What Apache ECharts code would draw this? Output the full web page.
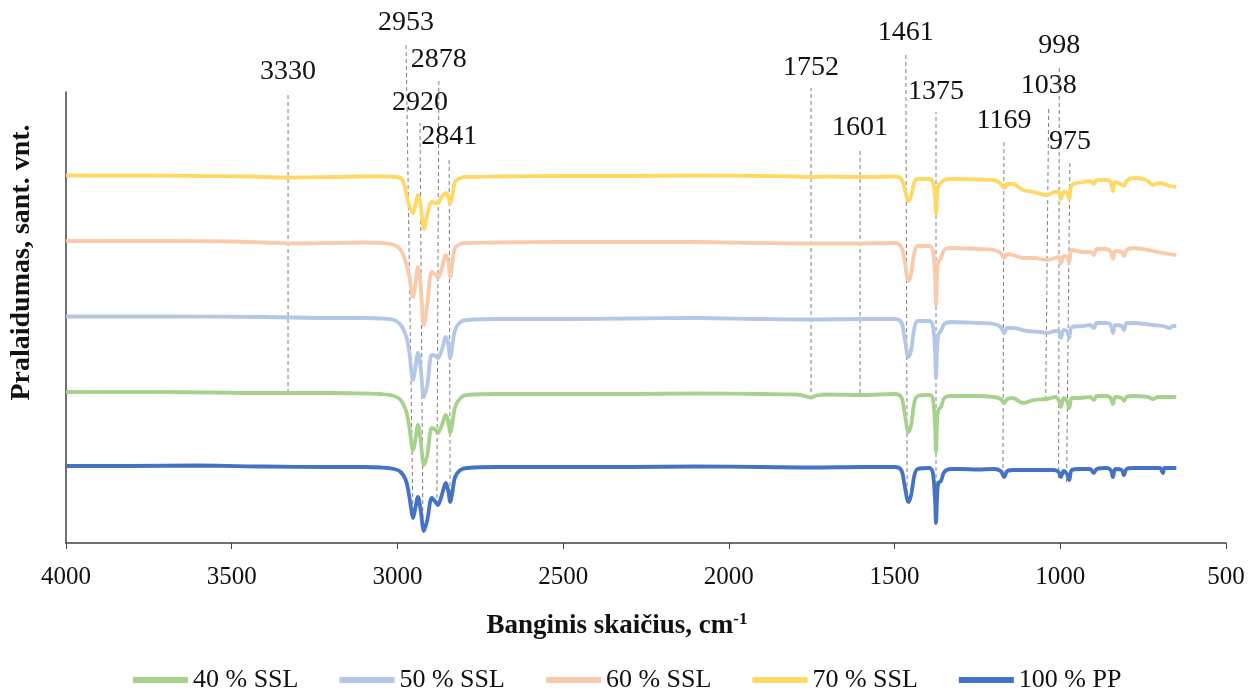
<!DOCTYPE html>
<html>
<head>
<meta charset="utf-8">
<script src="https://cdn.jsdelivr.net/npm/echarts@6/dist/echarts.min.js"></script>
<style>html,body{margin:0;padding:0;background:#fff}#c{width:1250px;height:691px}</style>
</head>
<body>
<div id="c"></div>
<script>
// Spectra: [wavenumber cm-1, transmittance (arbitrary offset units)]
const pp100 = [[4000,77],[3800,77],[3600,77.5],[3400,76.5],[3200,76],[3100,76],[3050,75.5],[3010,74],[2990,71],[2975,63],[2965,48],[2958,33],[2953,25],[2946,35],[2938,46],[2930,33],[2920,12],[2910,23],[2896,45],[2885,41],[2878,38],[2866,48],[2854,60],[2846,51],[2841,41],[2834,51],[2826,66],[2810,73],[2790,75],[2700,76],[2500,76],[2300,76],[2100,76.5],[1900,76],[1752,75.5],[1600,76],[1500,76],[1480,73],[1470,58],[1458,41],[1450,48],[1440,68],[1430,74],[1395,75],[1385,71],[1378,43],[1375,20],[1372,43],[1368,60],[1360,62],[1350,71],[1330,74],[1300,74],[1250,73.5],[1200,74],[1180,72],[1169,66],[1160,72],[1140,73],[1100,73],[1060,73],[1020,73],[1005,71],[998,66],[990,72],[980,69],[973,63],[965,73],[940,74],[910,74],[899,70],[890,74],[860,75],[848,73],[841,66],[834,74],[815,73],[808,68],[800,74],[780,75],[720,75],[700,75],[690,70],[685,75],[650,75]];
const ssl40 = [[4000,151],[3700,151],[3400,150],[3200,150],[3100,149.5],[3050,149],[3010,147],[2990,143],[2975,133],[2965,118],[2953,93],[2946,103],[2938,118],[2930,103],[2920,78],[2910,88],[2896,115],[2885,113],[2878,110],[2866,118],[2854,128],[2846,120],[2841,110],[2834,120],[2826,136],[2810,145],[2790,148],[2700,149],[2500,149],[2300,149],[2100,149.5],[1900,149],[1800,148.5],[1770,147],[1752,145.5],[1735,147.5],[1700,148.5],[1601,148],[1500,149],[1480,146],[1470,131],[1458,111],[1450,118],[1440,141],[1430,147],[1395,148],[1385,145],[1378,118],[1375,91],[1372,118],[1368,133],[1360,136],[1350,145],[1330,147],[1250,147],[1200,146],[1180,144],[1169,140],[1160,144],[1143,145],[1113,140],[1080,143],[1040,144],[1015,146],[1005,143],[998,136],[990,145],[980,142],[973,135],[965,145],[940,145],[910,146],[899,143],[890,147],[860,147],[848,145],[841,139],[834,146],[815,145],[808,142],[800,146],[780,147],[735,146],[720,144],[705,146],[650,146]];
const ssl50 = [[4000,226.5],[3700,226.5],[3400,226],[3200,225],[3100,225],[3050,224.5],[3010,223],[2990,218],[2975,208],[2965,193],[2953,163],[2946,175],[2938,190],[2930,175],[2920,146],[2910,158],[2896,188],[2885,187],[2878,185],[2866,193],[2854,206],[2846,198],[2841,185],[2834,198],[2826,213],[2810,221],[2790,223],[2700,224],[2500,224],[2300,224.5],[2100,225],[1900,224],[1752,223.5],[1600,224],[1500,224],[1480,221],[1470,206],[1458,186],[1450,193],[1440,215],[1430,222],[1395,222],[1385,218],[1378,193],[1375,165],[1372,193],[1368,208],[1360,212],[1350,219],[1330,221],[1250,220],[1200,219],[1180,216],[1169,210],[1160,215],[1143,215],[1100,212],[1060,211],[1040,210],[1015,212],[1005,212],[998,205],[990,213],[980,212],[973,205],[965,216],[930,217],[910,218],[899,215],[890,220],[860,220],[848,218],[841,210],[834,218],[815,217],[808,213],[800,220],[780,220],[720,218],[690,217],[670,215],[660,217],[650,217]];
const ssl60 = [[4000,302],[3700,302],[3500,301.5],[3400,300.5],[3300,299.5],[3200,300],[3100,300.5],[3050,300],[3010,298],[2990,293],[2975,281],[2965,268],[2953,246],[2946,258],[2938,276],[2930,258],[2920,218],[2910,238],[2896,271],[2885,268],[2878,265],[2866,275],[2854,288],[2846,280],[2841,266],[2834,281],[2826,295],[2810,299],[2790,300],[2700,300.5],[2500,301],[2300,301],[2100,301],[1900,300],[1752,299.5],[1600,299.5],[1500,300],[1480,296],[1470,283],[1458,262],[1450,269],[1440,291],[1430,297],[1395,297],[1385,293],[1378,268],[1375,238],[1372,266],[1368,281],[1360,285],[1350,293],[1330,295],[1250,294],[1200,293],[1180,290],[1169,285],[1160,289],[1143,288],[1113,285],[1080,285],[1040,283],[1015,285],[1005,286],[998,280],[990,287],[980,286],[973,281],[965,293],[930,291],[910,291],[899,288],[890,294],[860,294],[848,291],[841,284],[834,292],[815,291],[808,287],[800,293],[780,295],[720,292],[690,290],[650,288]];
const ssl70 = [[4000,367.5],[3800,367.5],[3600,367],[3450,366.5],[3330,365.5],[3200,366],[3100,366.5],[3030,366.5],[3000,366],[2985,363],[2972,348],[2965,338],[2953,330],[2946,338],[2938,348],[2930,338],[2920,314],[2910,328],[2896,341],[2885,340],[2878,340],[2866,346],[2854,350],[2846,346],[2841,339],[2834,348],[2826,361],[2810,365],[2790,366],[2700,366.5],[2500,367],[2300,367],[2100,367.5],[1900,367],[1800,366.5],[1752,366],[1700,366.5],[1601,366],[1500,366.5],[1480,364],[1470,355],[1458,342],[1450,347],[1440,361],[1430,364],[1395,364],[1385,361],[1378,348],[1375,329],[1372,346],[1368,357],[1360,360],[1350,363],[1330,364],[1250,363.5],[1200,363],[1182,360],[1169,355],[1160,359],[1143,359],[1113,353],[1080,351],[1040,348],[1016,351],[1005,351],[998,344],[990,351],[980,350],[973,344],[965,358],[930,361],[910,362],[899,359],[890,363],[860,363],[848,361],[841,352],[834,361],[820,359],[808,357],[800,362],[781,365],[740,363],[720,358],[700,360],[670,357],[650,356]];

// Peak annotations
const peakLabels = ['3330','2953','2920','2878','2841','1752','1601','1461','1375','1169','1038','998','975'];
const peakWaveTop = [3330,2974,2932,2875,2844,1752,1604,1466,1375,1170,1035,1003,971];
const peakWaveBottom = [3330,2953,2923,2881,2841,1752,1604,1462,1375,1173,1044,1005,981];
const peakTop = [451,500,420,463,386,455,395,490,431,402,437,477,381];
const peakBottom = [150,25,18,38,43,151,150,43,23,68,143,65,61];

const seriesNames = ['40 % SSL','50 % SSL','60 % SSL','70 % SSL','100 % PP'];
const seriesData = [ssl40, ssl50, ssl60, ssl70, pp100];
const colors = ['#A9D18E','#B4C7E7','#F8CBAD','#FFD966','#4472C4'];

const serif = '"Liberation Serif", "Times New Roman", serif';
const chart = echarts.init(document.getElementById('c'), null, {renderer: 'canvas'});

const annData = peakLabels.map((l, i) => [peakWaveTop[i], peakTop[i], peakWaveBottom[i], peakBottom[i], l]);

const series = seriesNames.map((n, i) => ({
  name: n, type: 'line', data: seriesData[i], showSymbol: false, symbol: 'none',
  smooth: 0.35, lineStyle: {color: colors[i], width: 3.8}, itemStyle: {color: colors[i]},
  z: 3 + i
}));
series.unshift({
  type: 'custom', name: 'peaks', data: annData, clip: false, silent: true, z: 2,
  encode: {x: [0, 2], y: [1, 3]},
  renderItem: function (params, api) {
    const top = api.coord([api.value(0), api.value(1)]);
    const bot = api.coord([api.value(2), api.value(3)]);
    const label = peakLabels[params.dataIndex];
    return {
      type: 'group',
      children: [
        {type: 'line', shape: {x1: bot[0], y1: bot[1], x2: top[0], y2: top[1]},
         style: {stroke: '#7F7F7F', lineWidth: 1, lineDash: [4, 3]}},
        {type: 'text', style: {text: label, x: top[0], y: top[1] - 20, align: 'center', verticalAlign: 'middle',
          textAlign: 'center', textVerticalAlign: 'middle', font: '28px ' + serif, fill: '#111'}}
      ]
    };
  }
});

chart.setOption({
  animation: false,
  backgroundColor: '#fff',
  grid: {left: 66, right: 24, top: 92, bottom: 148, containLabel: false},
  legend: {
    data: seriesNames, top: 662, left: 128, icon: 'rect', itemWidth: 55, itemHeight: 6, itemGap: 41,
    textStyle: {fontFamily: serif, fontSize: 26, color: '#111'}
  },
  xAxis: {
    type: 'value', inverse: true, min: 500, max: 4000, interval: 500,
    axisLine: {show: true, onZero: false, lineStyle: {color: '#404040', width: 1.5}},
    axisTick: {show: true, length: 6, lineStyle: {color: '#404040'}},
    axisLabel: {fontFamily: serif, fontSize: 25, color: '#111', margin: 22, formatter: function (v) { return String(v); }},
    splitLine: {show: false},
    name: '{a|Banginis skaičius, cm}{s|-1}', nameLocation: 'middle', nameGap: 68,
    nameTextStyle: {padding: [0, 58, 0, 0], rich: {
      a: {fontFamily: serif, fontSize: 27, fontWeight: 'bold', color: '#111'},
      s: {fontFamily: serif, fontSize: 17, fontWeight: 'bold', color: '#111', verticalAlign: 'top', padding: [0, 0, 14, 0]}
    }}
  },
  yAxis: {
    type: 'value', min: 0, max: 451,
    axisLine: {show: true, onZero: false, lineStyle: {color: '#404040', width: 1.5}},
    axisTick: {show: false}, axisLabel: {show: false}, splitLine: {show: false},
    name: 'Pralaidumas, sant. vnt.', nameLocation: 'middle', nameGap: 30,
    nameTextStyle: {fontFamily: serif, fontSize: 28, fontWeight: 'bold', color: '#111', padding: [0, 0, 0, 110]}
  },
  series: series
});
</script>
</body>
</html>
